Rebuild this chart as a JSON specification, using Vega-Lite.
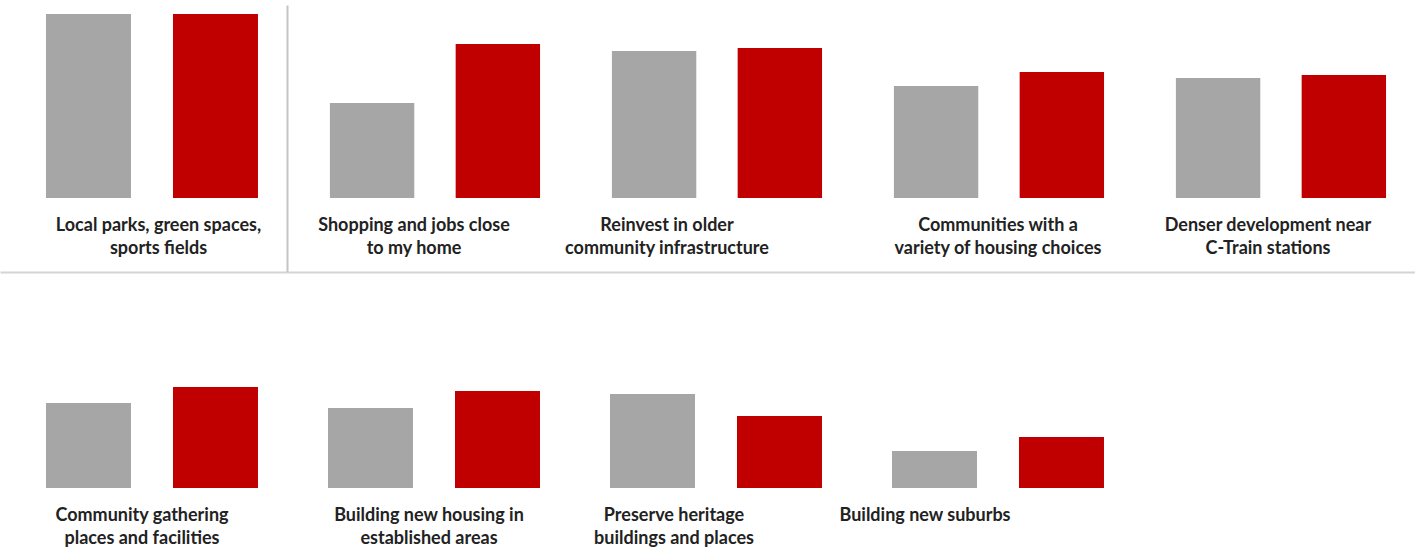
{
  "$schema": "https://vega.github.io/schema/vega-lite/v6.json",
  "padding": {"top": 5, "left": 0, "right": 0, "bottom": 0},
  "background": "white",
  "config": {
    "view": {"stroke": null},
    "axis": {
      "labelFont": "Lato",
      "labelFontWeight": "bold",
      "labelFontSize": 18,
      "labelColor": "#222222",
      "labelLineHeight": 23,
      "labelLimit": 0,
      "ticks": false,
      "tickSize": 0,
      "grid": false,
      "title": null
    }
  },
  "datasets": {
    "d": [
      {"panel": 1, "item": "Local parks, green spaces,|sports fields", "series": "Series 1", "value": 92},
      {"panel": 1, "item": "Local parks, green spaces,|sports fields", "series": "Series 2", "value": 92},
      {"panel": 2, "item": "Shopping and jobs close|to my home", "series": "Series 1", "value": 47.5},
      {"panel": 2, "item": "Shopping and jobs close|to my home", "series": "Series 2", "value": 77},
      {"panel": 3, "item": "Reinvest in older|community infrastructure", "series": "Series 1", "value": 73.5},
      {"panel": 3, "item": "Reinvest in older|community infrastructure", "series": "Series 2", "value": 75},
      {"panel": 4, "item": "Communities with a|variety of housing choices", "series": "Series 1", "value": 56},
      {"panel": 4, "item": "Communities with a|variety of housing choices", "series": "Series 2", "value": 63},
      {"panel": 5, "item": "Denser development near|C-Train stations", "series": "Series 1", "value": 60},
      {"panel": 5, "item": "Denser development near|C-Train stations", "series": "Series 2", "value": 61.5},
      {"panel": 6, "item": "Community gathering|places and facilities", "series": "Series 1", "value": 42.5},
      {"panel": 6, "item": "Community gathering|places and facilities", "series": "Series 2", "value": 50.5},
      {"panel": 7, "item": "Building new housing in|established areas", "series": "Series 1", "value": 40},
      {"panel": 7, "item": "Building new housing in|established areas", "series": "Series 2", "value": 48.5},
      {"panel": 8, "item": "Preserve heritage|buildings and places", "series": "Series 1", "value": 47},
      {"panel": 8, "item": "Preserve heritage|buildings and places", "series": "Series 2", "value": 36},
      {"panel": 9, "item": "Building new suburbs", "series": "Series 1", "value": 18.5},
      {"panel": 9, "item": "Building new suburbs", "series": "Series 2", "value": 25.5}
    ]
  },
  "spacing": 23,
  "resolve": {"scale": {"x": "independent", "xOffset": "independent", "y": "independent", "color": "shared"}},
  "vconcat": [
    {
      "spacing": 0,
      "resolve": {"scale": {"x": "independent", "xOffset": "independent", "y": "independent"}},
      "hconcat": [
        {
          "width": 287,
          "height": 267,
          "data": {"name": "d"},
          "transform": [{"filter": "datum.panel == 1"}],
          "mark": {"type": "bar"},
          "encoding": {
            "x": {
              "field": "item", "type": "nominal", "sort": null,
              "scale": {"paddingInner": 0, "paddingOuter": 0},
              "axis": {"orient": "bottom", "domain": true, "domainColor": "#d4d4d4", "domainWidth": 2,
                       "labelPadding": -56, "labelAngle": 0, "labelBaseline": "top",
                       "labelExpr": "split(datum.label, '|')", "labelOffset": 15}
            },
            "xOffset": {"field": "series", "type": "nominal",
                        "scale": {"paddingInner": 0.3307, "paddingOuter": 0.2953, "align": 0.613}},
            "y": {"field": "value", "type": "quantitative", "stack": null,
                  "scale": {"domain": [-37, 96.5], "nice": false, "zero": false},
                  "axis": {"orient": "right", "domain": true, "domainColor": "#c4c4c4", "domainWidth": 2, "labels": false}},
            "y2": {"datum": 0},
            "color": {"field": "series", "type": "nominal",
                      "scale": {"domain": ["Series 1", "Series 2"], "range": ["#a6a6a6", "#c00000"]}, "legend": null}
          }
        },
        {
          "width": 1128,
          "height": 267,
          "data": {"name": "d"},
          "transform": [{"filter": "datum.panel >= 2 && datum.panel <= 5"}],
          "mark": {"type": "bar"},
          "encoding": {
            "x": {
              "field": "item", "type": "nominal", "sort": null,
              "scale": {"paddingInner": 0, "paddingOuter": 0},
              "axis": {"orient": "bottom", "domain": true, "domainColor": "#d4d4d4", "domainWidth": 2,
                       "labelPadding": -56, "labelAngle": 0, "labelBaseline": "top",
                       "labelExpr": "split(datum.label, '|')",
                       "labelOffset": {"condition": [
                         {"test": "indexof(datum.value, 'Shopping') >= 0", "value": -14},
                         {"test": "indexof(datum.value, 'Reinvest') >= 0", "value": -43},
                         {"test": "indexof(datum.value, 'Communities') >= 0", "value": 6}
                       ], "value": -6}}
            },
            "xOffset": {"field": "series", "type": "nominal",
                        "scale": {"paddingInner": 0.329, "paddingOuter": 0.2857, "align": 0.597}},
            "y": {"field": "value", "type": "quantitative", "stack": null,
                  "scale": {"domain": [-37, 96.5], "nice": false, "zero": false},
                  "axis": null},
            "y2": {"datum": 0},
            "color": {"field": "series", "type": "nominal",
                      "scale": {"domain": ["Series 1", "Series 2"], "range": ["#a6a6a6", "#c00000"]}, "legend": null}
          }
        }
      ]
    },
    {
      "width": 1128,
      "height": 193,
      "data": {"name": "d"},
      "transform": [{"filter": "datum.panel >= 6"}],
      "mark": {"type": "bar"},
      "encoding": {
        "x": {
          "field": "item", "type": "nominal", "sort": null,
          "scale": {"paddingInner": 0, "paddingOuter": 0},
          "axis": {"orient": "bottom", "domain": false,
                   "labelPadding": 18, "labelAngle": 0, "labelBaseline": "top",
                   "labelExpr": "split(datum.label, '|')",
                   "labelOffset": {"condition": [
                     {"test": "indexof(datum.value, 'housing in') >= 0", "value": 6},
                     {"test": "indexof(datum.value, 'Preserve') >= 0", "value": -31},
                     {"test": "indexof(datum.value, 'suburbs') >= 0", "value": -62}
                   ], "value": 1}}
        },
        "xOffset": {"field": "series", "type": "nominal",
                    "scale": {"paddingInner": 0.3307, "paddingOuter": 0.2756, "align": 0.657}},
        "y": {"field": "value", "type": "quantitative", "stack": null,
              "scale": {"domain": [0, 96.5], "nice": false, "zero": false},
              "axis": null},
        "y2": {"datum": 0},
        "color": {"field": "series", "type": "nominal",
                  "scale": {"domain": ["Series 1", "Series 2"], "range": ["#a6a6a6", "#c00000"]}, "legend": null}
      }
    }
  ]
}
